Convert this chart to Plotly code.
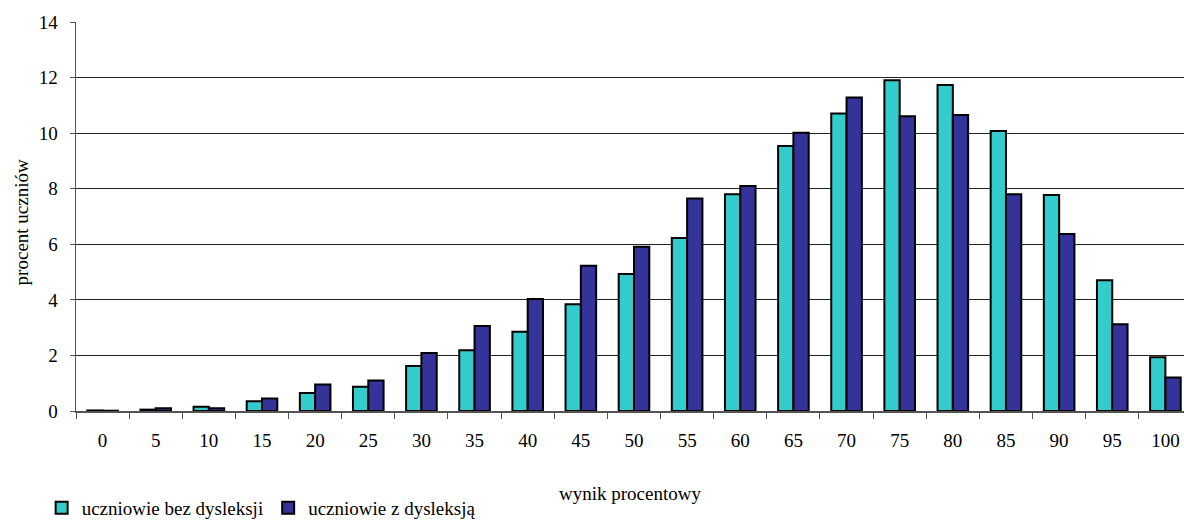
import plotly.graph_objects as go

categories = ["0", "5", "10", "15", "20", "25", "30", "35", "40", "45", "50",
              "55", "60", "65", "70", "75", "80", "85", "90", "95", "100"]
bez_dysleksji = [0.02, 0.05, 0.15, 0.35, 0.65, 0.87, 1.62, 2.19, 2.85, 3.84, 4.93,
                 6.23, 7.8, 9.54, 10.71, 11.9, 11.73, 10.08, 7.77, 4.71, 1.93]
z_dysleksja = [0.01, 0.1, 0.1, 0.45, 0.95, 1.1, 2.09, 3.06, 4.03, 5.23, 5.91,
               7.65, 8.1, 10.01, 11.28, 10.61, 10.65, 7.8, 6.37, 3.12, 1.21]
y_ticks = [0, 2, 4, 6, 8, 10, 12, 14]

FONT = "Liberation Serif, Times New Roman, serif"

fig = go.Figure()
fig.add_trace(go.Bar(
    x=categories, y=bez_dysleksji, name="uczniowie bez dysleksji",
    marker=dict(color="#33CCCC", line=dict(color="black", width=2)),
))
fig.add_trace(go.Bar(
    x=categories, y=z_dysleksja, name="uczniowie z dysleksją",
    marker=dict(color="#333399", line=dict(color="black", width=2)),
))

fig.update_layout(
    width=1184, height=521,
    margin=dict(l=76, r=0, t=22, b=110, autoexpand=False),
    paper_bgcolor="white", plot_bgcolor="white",
    font=dict(family=FONT, size=19, color="black"),
    barmode="group", bargap=0.424, bargroupgap=0,
    showlegend=True,
    legend=dict(orientation="h", x=-0.031, xanchor="left", y=-0.249, yanchor="middle",
                font=dict(family=FONT, size=19, color="black"),
                bgcolor="rgba(0,0,0,0)", itemclick=False),
    annotations=[
        dict(text="wynik procentowy", xref="paper", yref="paper", x=0.5, y=-0.211,
             xanchor="center", yanchor="middle", showarrow=False,
             font=dict(family=FONT, size=19, color="black")),
        dict(text="procent uczniów", xref="paper", yref="paper", x=-0.0496, y=0.485,
             xanchor="center", yanchor="middle", showarrow=False, textangle=-90,
             font=dict(family=FONT, size=19, color="black")),
    ],
)
fig.update_xaxes(
    type="category", range=[-0.5, 20.35], automargin=False,
    tickson="boundaries", ticks="outside", ticklen=6, tickcolor="#555", tickwidth=1,
    showline=True, linecolor="#555", linewidth=1.5,
    showgrid=False, ticklabelstandoff=12,
)
fig.update_yaxes(
    range=[0, 14], tickvals=y_ticks, ticks="outside", ticklen=5, tickcolor="#555",
    automargin=False,
    showline=True, linecolor="#555", linewidth=1.5,
    showgrid=True, gridcolor="#222", gridwidth=1, zeroline=False,
    ticklabelstandoff=8,
)

fig.write_html(
    "out.html",
    config={"displayModeBar": False, "staticPlot": True},
    post_script="document.body.style.margin='0';document.body.style.overflow='hidden';",
)
